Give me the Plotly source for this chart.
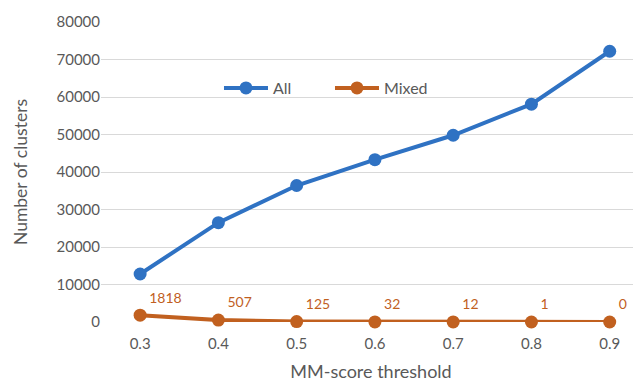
import plotly.graph_objects as go

thresholds = ["0.3", "0.4", "0.5", "0.6", "0.7", "0.8", "0.9"]
all_counts = [12800, 26500, 36400, 43300, 49800, 58100, 72200]
mixed_counts = [1818, 507, 125, 32, 12, 1, 0]
y_ticks = [0, 10000, 20000, 30000, 40000, 50000, 60000, 70000, 80000]

BLUE = "#2F72C3"
ORANGE = "#C1601F"
FONT = "Lato, 'Open Sans', sans-serif"
GRAY = "#595959"

fig = go.Figure()
fig.add_trace(go.Scatter(
    x=thresholds, y=all_counts, name="All", mode="lines+markers",
    line=dict(color=BLUE, width=4), marker=dict(color=BLUE, size=13),
    cliponaxis=False,
))
fig.add_trace(go.Scatter(
    x=thresholds, y=mixed_counts, name="Mixed", mode="lines+markers+text",
    line=dict(color=ORANGE, width=4), marker=dict(color=ORANGE, size=13),
    text=[str(v) for v in mixed_counts], textposition="top right",
    textfont=dict(family=FONT, size=14, color=ORANGE),
    cliponaxis=False,
))

# page body has an 8px default margin; figure sized to fit the window
fig.update_layout(
    width=633, height=374,
    margin=dict(l=93, r=0, t=14, b=60),
    paper_bgcolor="white", plot_bgcolor="white",
    font=dict(family=FONT, size=15, color=GRAY),
    showlegend=True,
    legend=dict(orientation="h", x=0.2185, y=0.78, xanchor="left", yanchor="middle",
                font=dict(family=FONT, size=16, color=GRAY),
                bgcolor="rgba(0,0,0,0)", itemwidth=44,
                entrywidth=52, entrywidthmode="pixels"),
    xaxis=dict(
        type="category", range=[-0.5, 6.4], showgrid=False, zeroline=False,
        showline=False, ticks="", ticklabelstandoff=11,
        tickfont=dict(family=FONT, size=15, color=GRAY),
        title=dict(text="MM-score threshold", font=dict(family=FONT, size=18, color=GRAY), standoff=14),
    ),
    yaxis=dict(
        range=[0, 80000], tickvals=y_ticks, tickformat="d",
        showgrid=True, gridcolor="#D9D9D9", gridwidth=1,
        zeroline=False, showline=False, ticks="",
        tickfont=dict(family=FONT, size=15, color=GRAY),
        title=dict(text="Number of clusters", font=dict(family=FONT, size=17.5, color=GRAY), standoff=24),
    ),
)

fig.write_html("out.html")
